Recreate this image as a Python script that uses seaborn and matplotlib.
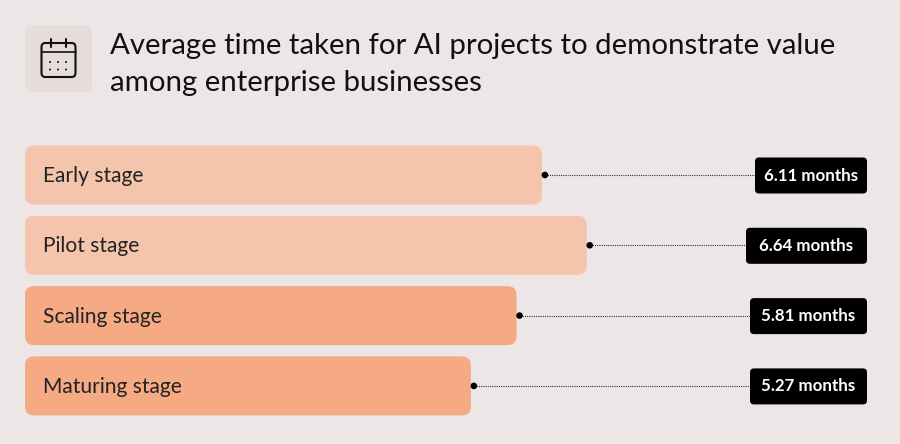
import matplotlib
matplotlib.use("Agg")
import matplotlib.pyplot as plt
from matplotlib.patches import FancyBboxPatch, Circle
import pandas as pd
import seaborn as sns

stages = ["Early stage", "Pilot stage", "Scaling stage", "Maturing stage"]
months = [6.11, 6.64, 5.81, 5.27]
value_labels = ["6.11 months", "6.64 months", "5.81 months", "5.27 months"]
bar_colors = ["#f4c5ac", "#f4c5ac", "#f5aa83", "#f5aa83"]
title_lines = ["Average time taken for AI projects to demonstrate value",
               "among enterprise businesses"]

BG = "#ece6e6"
W, H = 900, 444
PX_PER_MONTH = 84.6
PX_PER_ROW = 70.3
FIRST_ROW_Y = 175

sns.set_theme(style="white")
plt.rcParams["font.family"] = ["Lato", "DejaVu Sans"]

fig = plt.figure(figsize=(W / 100, H / 100), dpi=100, facecolor=BG)

# Bar axes: horizontal unit is months, vertical unit is one category row
ax = fig.add_axes([25 / W, 0, (W - 25) / W, 1])
ax.set_facecolor("none")
df = pd.DataFrame({"stage": stages, "months": months})
sns.barplot(data=df, x="months", y="stage", hue="stage", palette=bar_colors,
            width=59 / PX_PER_ROW, legend=False, ax=ax, saturation=1)
ax.set_xlim(0, (W - 25) / PX_PER_MONTH)
ax.set_ylim((H - FIRST_ROW_Y) / PX_PER_ROW, -FIRST_ROW_Y / PX_PER_ROW)
ax.axis("off")

# Swap the square bars for rounded ones of the same geometry
for patch in list(ax.patches):
    rounded = FancyBboxPatch(
        (patch.get_x(), patch.get_y()), patch.get_width(), patch.get_height(),
        boxstyle=f"round,pad=0,rounding_size={9 / PX_PER_MONTH}",
        mutation_aspect=PX_PER_MONTH / PX_PER_ROW,
        facecolor=patch.get_facecolor(), edgecolor="none")
    ax.add_patch(rounded)
    patch.remove()

# Overlay in pixel coordinates for the header, connectors and value tags
ov = fig.add_axes([0, 0, 1, 1])
ov.set_xlim(0, W)
ov.set_ylim(H, 0)
ov.axis("off")
ov.set_facecolor("none")

ov.add_patch(FancyBboxPatch((25, 25), 67, 67, boxstyle="round,pad=0,rounding_size=8",
                            facecolor="#e6dcdc", edgecolor="none"))

# Calendar icon
ink = "#111111"
ov.add_patch(FancyBboxPatch((41.5, 43), 34, 34, boxstyle="round,pad=0,rounding_size=4",
                            facecolor="none", edgecolor=ink, linewidth=1.5))
ov.plot([41.5, 75.5], [52.5, 52.5], color=ink, lw=1.2)
for x in (51, 66):
    ov.plot([x, x], [39, 47], color=ink, lw=1.5, solid_capstyle="round")
for x, y in [(50, 62), (58, 62), (66, 62), (50, 69.5), (58, 69.5), (66, 69.5)]:
    ov.add_patch(Circle((x, y), 1.0, color=ink, linewidth=0))

for i, line in enumerate(title_lines):
    ov.text(110, 46 + i * 37.5, line, fontsize=21.2, color="#111111",
            va="center", ha="left")

tag_lefts = [755, 746, 750, 750]
for i, (stage, m, label, tag_left) in enumerate(zip(stages, months, value_labels, tag_lefts)):
    y = FIRST_ROW_Y + i * PX_PER_ROW
    end = 25 + m * PX_PER_MONTH
    ov.text(43, y + 1, stage, fontsize=15.1, color="#222222", va="center", ha="left")
    ov.plot([end + 3, tag_left], [y, y], color="#333333", lw=0.8, ls=(0, (1, 1)))
    ov.add_patch(Circle((end + 3, y), 3.3, color="black", linewidth=0, zorder=4))
    ov.add_patch(FancyBboxPatch((tag_left, y - 17.5), 867 - tag_left, 36,
                                boxstyle="round,pad=0,rounding_size=4",
                                facecolor="black", edgecolor="none", zorder=3))
    ov.text((tag_left + 867) / 2, y + 0.5, label, fontsize=12.2, color="white",
            fontweight="bold", va="center", ha="center", zorder=5)

fig.savefig("out.png", dpi=100, facecolor=BG)
